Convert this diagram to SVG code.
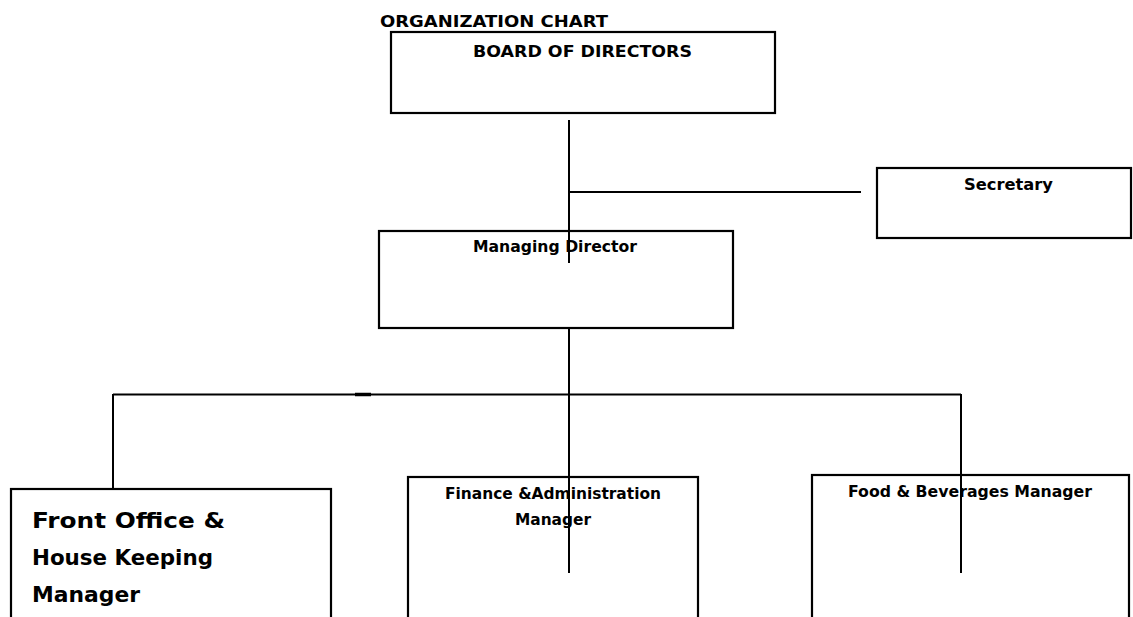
<svg xmlns="http://www.w3.org/2000/svg" width="1133" height="617" viewBox="0 0 1133 617">
<style>
.box{fill:#fff;stroke:#000;stroke-width:2.2}
.t{font-family:"DejaVu Sans",sans-serif;font-weight:bold;font-size:16px;fill:#000}
.big{font-size:22px}
.ln{stroke:#000;stroke-width:2;fill:none}
</style>
<rect width="1133" height="617" fill="#fff"/>
<text id="title" class="t" x="380" y="27" textLength="228" lengthAdjust="spacingAndGlyphs">ORGANIZATION CHART</text>
<g id="board">
<rect class="box" x="391" y="32" width="384" height="81"/>
<text class="t" x="473" y="57" textLength="219" lengthAdjust="spacingAndGlyphs">BOARD OF DIRECTORS</text>
</g>
<g id="secretary">
<rect class="box" x="877" y="168" width="254" height="70"/>
<text class="t" x="964" y="190" textLength="89" lengthAdjust="spacingAndGlyphs">Secretary</text>
</g>
<g id="managing">
<rect class="box" x="379" y="231" width="354" height="97"/>
<text class="t" x="473" y="252" textLength="164" lengthAdjust="spacingAndGlyphs">Managing Director</text>
</g>
<g id="frontoffice">
<rect class="box" x="11" y="489" width="320" height="160"/>
<text class="t big" x="32" y="528" textLength="193" lengthAdjust="spacingAndGlyphs">Front Office &amp;</text>
<text class="t big" x="32" y="565" textLength="181" lengthAdjust="spacingAndGlyphs">House Keeping</text>
<text class="t big" x="32" y="602" textLength="108" lengthAdjust="spacingAndGlyphs">Manager</text>
</g>
<g id="finance">
<rect class="box" x="408" y="477" width="290" height="170"/>
<text class="t" x="445" y="499" textLength="216" lengthAdjust="spacingAndGlyphs">Finance &amp;Administration</text>
<text class="t" x="515" y="525" textLength="76" lengthAdjust="spacingAndGlyphs">Manager</text>
</g>
<g id="food">
<rect class="box" x="812" y="475" width="317" height="170"/>
<text class="t" x="848" y="497" textLength="244" lengthAdjust="spacingAndGlyphs">Food &amp; Beverages Manager</text>
</g>
<g id="connectors">
<line class="ln" x1="569" y1="120" x2="569" y2="263"/>
<line class="ln" x1="569" y1="192" x2="861" y2="192"/>
<line class="ln" x1="569" y1="328" x2="569" y2="573"/>
<line class="ln" x1="113" y1="394.5" x2="961" y2="394.5"/>
<line x1="355" y1="394.5" x2="371" y2="394.5" stroke="#000" stroke-width="3.5"/>
<line class="ln" x1="113" y1="394" x2="113" y2="489"/>
<line class="ln" x1="961" y1="394" x2="961" y2="573"/>
</g>
</svg>
